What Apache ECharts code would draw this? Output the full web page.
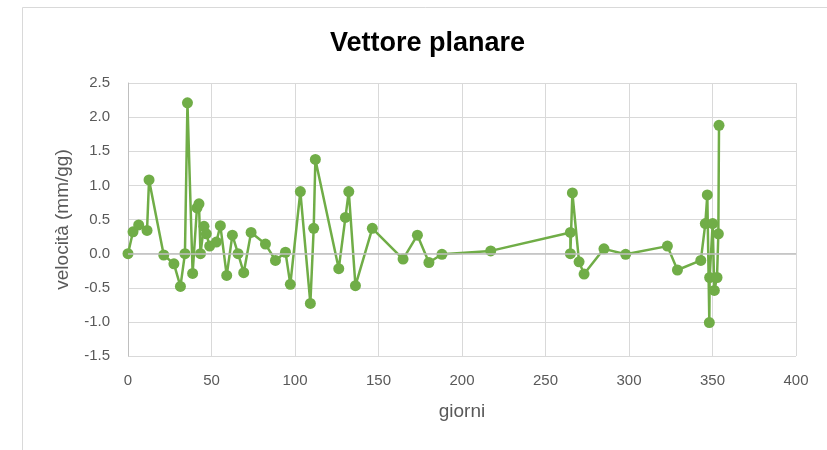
<!DOCTYPE html>
<html>
<head>
<meta charset="utf-8">
<script src="https://cdn.jsdelivr.net/npm/echarts@6/dist/echarts.min.js"></script>
<style>
  html, body { margin: 0; padding: 0; background: #fff; }
  #chart { width: 827px; height: 450px; }
</style>
</head>
<body>
<div id="chart"></div>
<script>
// giorni (x) e velocità (y)
const giorni = [
  0, 3.0, 6.4, 11.4, 12.6, 21.4, 27.5, 31.4, 34.1, 35.6,
  38.7, 41.3, 42.5, 43.4, 45.5, 46.9, 48.9, 52.9, 55.3, 59.1,
  62.5, 65.9, 69.3, 73.7, 82.3, 88.3, 94.3, 97.2, 103.2, 109.2,
  111.2, 112.2, 126.2, 130.2, 132.2, 136.2, 146.3, 164.7, 173.3, 180.2,
  188, 217.2, 264.9, 264.9, 266.1, 270.1, 273.1, 285, 298, 323,
  329, 343, 345.7, 346.9, 348.1, 348.3, 350.1, 351.1, 352.7, 353.5,
  353.9
];
const velocita = [
  0, 0.32, 0.42, 0.34, 1.08, -0.02, -0.15, -0.48, 0.0, 2.21,
  -0.29, 0.67, 0.73, 0.0, 0.40, 0.29, 0.11, 0.17, 0.41, -0.32,
  0.27, 0.0, -0.28, 0.31, 0.14, -0.10, 0.02, -0.45, 0.91, -0.73,
  0.37, 1.38, -0.22, 0.53, 0.91, -0.47, 0.37, -0.08, 0.27, -0.13,
  -0.01, 0.04, 0.31, 0.0, 0.89, -0.12, -0.30, 0.07, -0.01, 0.11,
  -0.24, -0.10, 0.44, 0.86, -1.01, -0.35, 0.44, -0.54, -0.35, 0.29,
  1.88
];
const titolo = 'Vettore planare';
const nomeX = 'giorni';
const nomeY = 'velocità (mm/gg)';

const font = '"Liberation Sans", Arial, sans-serif';
const chart = echarts.init(document.getElementById('chart'), null, { renderer: 'canvas' });

const punti = giorni.map((g, i) => [g, velocita[i]]);

const option = {
  backgroundColor: '#fff',
  animation: false,
  graphic: [{
    type: 'rect',
    left: 20, top: 5,
    shape: { width: 830, height: 460 },
    style: { fill: 'none', stroke: '#d9d9d9', lineWidth: 1 },
    silent: true
  }],
  title: {
    text: titolo,
    top: 25,
    left: 325,
    textStyle: { fontFamily: font, fontSize: 27, fontWeight: 'bold', color: '#000' }
  },
  grid: { left: 128, right: 31, top: 83, bottom: 94, containLabel: false },
  xAxis: {
    type: 'value',
    min: 0, max: 400, interval: 50,
    name: nomeX,
    nameLocation: 'middle',
    nameGap: 46,
    nameTextStyle: { fontFamily: font, fontSize: 19, color: '#595959' },
    axisLine: { show: false },
    axisTick: { show: false },
    axisLabel: { fontFamily: font, fontSize: 15, color: '#595959', margin: 17 },
    splitLine: { show: true, lineStyle: { color: '#d9d9d9', width: 1 } }
  },
  yAxis: {
    type: 'value',
    min: -1.5, max: 2.5, interval: 0.5,
    name: nomeY,
    nameLocation: 'middle',
    nameGap: 56,
    nameTextStyle: { fontFamily: font, fontSize: 19, color: '#595959' },
    axisLine: { show: true, lineStyle: { color: '#bfbfbf', width: 1 } },
    axisTick: { show: false },
    axisLabel: {
      fontFamily: font, fontSize: 15, color: '#595959', margin: 18,
      formatter: v => v.toFixed(1)
    },
    splitLine: { show: true, lineStyle: { color: '#d9d9d9', width: 1 } }
  },
  series: [{
    type: 'line',
    data: punti,
    symbol: 'circle',
    symbolSize: 11,
    lineStyle: { color: '#70ad47', width: 2.5 },
    itemStyle: { color: '#70ad47' },
    markLine: {
      silent: true,
      symbol: 'none',
      label: { show: false },
      lineStyle: { color: '#bfbfbf', type: 'solid', width: 1.5 },
      data: [{ yAxis: 0 }]
    },
    z: 3
  }]
};

chart.setOption(option);
</script>
</body>
</html>
